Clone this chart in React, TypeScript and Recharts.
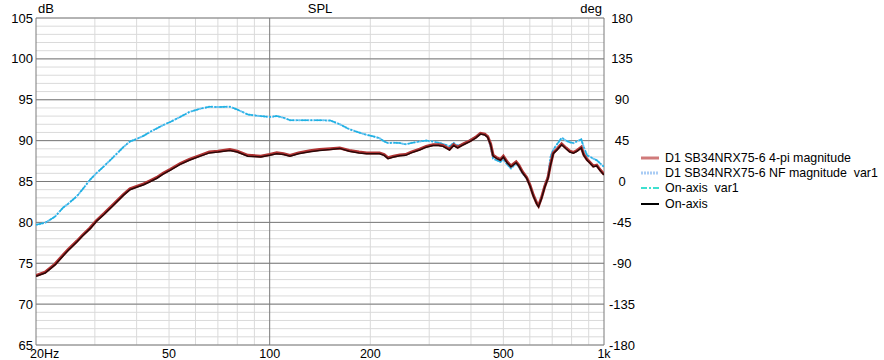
import { LineChart, Line, XAxis, YAxis, CartesianGrid } from 'recharts';

// frequency grid (Hz) shared by all curves
const freqs = [
  20, 21.3, 22.8, 24.1, 25, 26.5, 27.5, 29, 30.3, 32, 34.1, 36.5, 38.2, 40, 42, 44, 46, 48, 50.5, 54,
  57.5, 62, 66, 70, 76, 80, 86, 94, 100, 105, 110, 115, 122, 132, 141, 152, 162, 173, 185, 195,
  205, 213, 220, 226, 235, 245, 255, 265, 281, 294, 308, 320, 330, 345, 355, 365, 380, 398, 413, 427,
  440, 449, 458, 466, 478, 490, 500, 513, 527, 546, 556, 570, 587, 600, 615, 630, 637, 650, 665, 680,
  692, 705, 725, 747, 770, 790, 810, 830, 855, 870, 890, 910, 929, 951, 975, 1000,
];

// On-axis (black)
const onAxis = [
  73.4, 73.8, 74.8, 75.9, 76.6, 77.6, 78.3, 79.2, 80.1, 81.0, 82.1, 83.3, 84.0, 84.3, 84.6, 85.0, 85.4, 85.9, 86.4, 87.1,
  87.6, 88.1, 88.5, 88.6, 88.8, 88.6, 88.1, 88.0, 88.2, 88.4, 88.3, 88.1, 88.4, 88.65, 88.8, 88.9, 89.05, 88.7, 88.5, 88.4,
  88.4, 88.4, 88.2, 87.8, 88.0, 88.15, 88.2, 88.5, 88.85, 89.2, 89.4, 89.4, 89.3, 88.85, 89.4, 89.1, 89.5, 89.9, 90.3, 90.8,
  90.7, 90.4, 89.5, 88.1, 87.8, 87.6, 88.0, 87.3, 86.8, 87.3, 86.9, 86.1, 85.4, 84.5, 83.2, 82.2, 81.9, 82.9, 84.3, 85.4,
  87.0, 88.4, 88.9, 89.5, 89.0, 88.6, 88.45, 88.7, 89.1, 88.2, 87.6, 87.2, 86.8, 86.9, 86.3, 85.8,
];

// D1 SB34NRX75-6 4-pi magnitude (red, sits under the black curve)
const fourPi = [
  73.5, 73.9, 74.9, 76.0, 76.7, 77.7, 78.4, 79.3, 80.2, 81.1, 82.2, 83.4, 84.1, 84.4, 84.7, 85.1, 85.5, 86.0, 86.5, 87.2,
  87.7, 88.2, 88.6, 88.7, 88.9, 88.7, 88.2, 88.1, 88.3, 88.5, 88.4, 88.2, 88.5, 88.75, 88.9, 89.0, 89.1, 88.8, 88.6, 88.5,
  88.5, 88.5, 88.3, 87.9, 88.1, 88.25, 88.3, 88.6, 88.95, 89.3, 89.5, 89.5, 89.4, 88.95, 89.5, 89.2, 89.6, 90.0, 90.4, 90.9,
  90.8, 90.5, 89.6, 88.2, 87.9, 87.7, 88.1, 87.4, 86.9, 87.4, 87.0, 86.2, 85.5, 84.6, 83.3, 82.3, 82.0, 83.0, 84.4, 85.5,
  87.1, 88.5, 89.0, 89.6, 89.1, 88.7, 88.55, 88.8, 89.2, 88.3, 87.7, 87.3, 86.9, 87.0, 86.4, 85.9,
];

// D1 SB34NRX75-6 NF magnitude var1 (light blue dotted)
const nfVar1 = [
  79.7, 79.95, 80.7, 81.8, 82.3, 83.2, 84.0, 85.2, 86.0, 86.9, 88.0, 89.2, 89.9, 90.2, 90.6, 91.1, 91.5, 91.9, 92.3, 92.9,
  93.5, 93.9, 94.15, 94.1, 94.15, 93.8, 93.2, 93.0, 92.9, 93.0, 92.8, 92.5, 92.5, 92.5, 92.5, 92.45, 92.0, 91.4, 91.0, 90.7,
  90.5, 90.3, 89.9, 89.7, 89.75, 89.7, 89.55, 89.7, 89.9, 90.0, 89.9, 89.75, 89.6, 89.3, 89.7, 89.4, 89.6, 90.1, 90.4, 90.9,
  90.7, 90.5, 89.2, 87.8, 87.6, 87.4, 87.7, 87.1, 86.6, 87.2, 86.8, 86.0, 85.4, 84.6, 83.3, 82.3, 82.1, 83.0, 84.5, 85.6,
  88.0, 88.9, 89.6, 90.35, 90.0, 89.8, 89.7, 89.9, 90.15, 89.2, 88.2, 88.0, 87.8, 87.6, 87.2, 86.8,
];

// On-axis var1 (cyan dash-dot)
const onAxisVar1 = [
  79.7, 79.95, 80.7, 81.8, 82.3, 83.2, 84.0, 85.2, 86.0, 86.9, 88.0, 89.2, 89.9, 90.2, 90.6, 91.1, 91.5, 91.9, 92.3, 92.9,
  93.5, 93.9, 94.15, 94.1, 94.15, 93.8, 93.2, 93.0, 92.9, 93.0, 92.8, 92.5, 92.5, 92.5, 92.5, 92.45, 92.0, 91.4, 91.0, 90.7,
  90.5, 90.3, 89.9, 89.7, 89.75, 89.7, 89.55, 89.7, 89.9, 90.0, 89.9, 89.75, 89.6, 89.3, 89.7, 89.4, 89.6, 90.1, 90.4, 90.9,
  90.7, 90.5, 89.2, 87.8, 87.6, 87.4, 87.7, 87.1, 86.6, 87.2, 86.8, 86.0, 85.4, 84.6, 83.3, 82.3, 82.1, 83.0, 84.5, 85.6,
  88.0, 88.9, 89.6, 90.35, 90.0, 89.8, 89.7, 89.9, 90.15, 89.2, 88.2, 88.0, 87.8, 87.6, 87.2, 86.8,
];

const freqTicks = [20, 50, 100, 200, 500, 1000];
const freqTickLabels = ['20Hz', '50', '100', '200', '500', '1k'];
const dbTicks = [65, 70, 75, 80, 85, 90, 95, 100, 105];
const degTicks = [-180, -135, -90, -45, 0, 45, 90, 135, 180];

const minorDb = Array.from({ length: 41 }, (_, i) => 65 + i);
const minorFreqs = [30, 40, 50, 60, 70, 80, 90, 200, 300, 400, 500, 600, 700, 800, 900];
const majorFreqs = [20, 100, 1000];

const legendItems = [
  { label: 'D1 SB34NRX75-6 4-pi magnitude', color: '#d07a7a', dash: '', width: 3 },
  { label: 'D1 SB34NRX75-6 NF magnitude  var1', color: '#a9ccf4', dash: '2 1', width: 3 },
  { label: 'On-axis  var1', color: '#3fe0cf', dash: '6 2 2 2', width: 2 },
  { label: 'On-axis', color: '#000000', dash: '', width: 2 },
];

const data = freqs.map((f, i) => ({
  f,
  onAxis: onAxis[i],
  fourPi: fourPi[i],
  nfVar1: nfVar1[i],
  onAxisVar1: onAxisVar1[i],
}));

const FONT = '"Liberation Sans", Arial, sans-serif';

const FreqTick = (props: any) => {
  const { x, y, payload, index } = props;
  const first = index === 0;
  const i = freqTicks.indexOf(payload.value);
  return (
    <text x={first ? x - 6 : x} y={y} dy="0.71em" textAnchor={first ? 'start' : 'middle'}
      fontSize={12.5} fontFamily={FONT} fill="#000">
      {freqTickLabels[i]}
    </text>
  );
};

const DegTick = (props: any) => {
  const { x, y, payload } = props;
  return (
    <text x={x} y={y} dy="0.35em" textAnchor="middle" fontSize={13} fontFamily={FONT} fill="#000">
      {payload.value}
    </text>
  );
};

export default function App() {
  return (
    <div style={{ position: 'absolute', left: 0, top: 0, width: 884, height: 360, background: '#fff', fontFamily: FONT }}>
      <LineChart width={884} height={360} data={data} margin={{ top: 18, right: 0, bottom: 0, left: 0 }}>
        <CartesianGrid horizontalValues={minorDb} verticalValues={minorFreqs} stroke="#dadada" strokeWidth={1} />
        <CartesianGrid horizontalValues={dbTicks} verticalValues={majorFreqs} stroke="#7a7a7a" strokeWidth={1} />
        <XAxis dataKey="f" type="number" scale="log" domain={[20, 1000]} ticks={freqTicks} allowDataOverflow
          height={15} axisLine={false} tickLine={false} tickSize={4} tickMargin={0} tick={<FreqTick />} interval={0} />
        <YAxis yAxisId={0} type="number" domain={[65, 105]} ticks={dbTicks} width={36} axisLine={false}
          tickLine={false} tickSize={0} tickMargin={3} interval={0} allowDataOverflow
          tick={{ fontSize: 13, fill: '#000', fontFamily: FONT }} />
        <YAxis yAxisId="deg" orientation="right" type="number" domain={[-180, 180]} ticks={degTicks} width={280}
          axisLine={false} tickLine={false} tickSize={0} tickMargin={18} interval={0} allowDataOverflow
          tick={<DegTick />} />
        {/* phase axis carries no curve in this plot */}
        <Line yAxisId="deg" dataKey="phase" stroke="none" dot={false} isAnimationActive={false} />
        <Line dataKey="nfVar1" stroke="#6cbff2" strokeWidth={2} strokeDasharray="2 1" dot={false}
          isAnimationActive={false} />
        <Line dataKey="onAxisVar1" stroke="#1fb2e2" strokeWidth={1.5} strokeDasharray="8 2 2 2" dot={false}
          isAnimationActive={false} />
        <Line dataKey="fourPi" stroke="#b03232" strokeWidth={3} dot={false} isAnimationActive={false} />
        <Line dataKey="onAxis" stroke="#2a0808" strokeWidth={1.5} dot={false} isAnimationActive={false} />
      </LineChart>
      <div style={{ position: 'absolute', left: 38, top: 1, fontSize: 13 }}>dB</div>
      <div style={{ position: 'absolute', left: 320, top: 1, fontSize: 13, transform: 'translateX(-50%)' }}>SPL</div>
      <div style={{ position: 'absolute', right: 282, top: 1, fontSize: 13 }}>deg</div>
      <div style={{ position: 'absolute', left: 640, top: 150 }}>
        {legendItems.map((it) => (
          <div key={it.label} style={{ display: 'flex', alignItems: 'center', height: 15.3, fontSize: 12.4, whiteSpace: 'pre' }}>
            <svg width={20} height={6} style={{ marginRight: 5 }}>
              <line x1={1} y1={3} x2={19} y2={3} stroke={it.color} strokeWidth={it.width} strokeDasharray={it.dash || undefined} />
            </svg>
            <span>{it.label}</span>
          </div>
        ))}
      </div>
    </div>
  );
}
